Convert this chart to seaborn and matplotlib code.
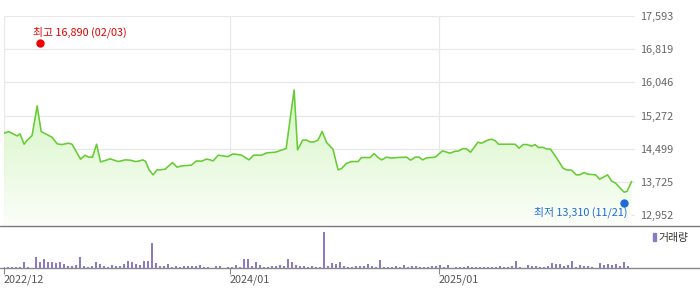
import numpy as np
import pandas as pd
import matplotlib
matplotlib.use("Agg")
import matplotlib.pyplot as plt
import matplotlib.dates as mdates
import matplotlib.transforms as mtransforms
from matplotlib.lines import Line2D
from matplotlib.patches import Rectangle
import seaborn as sns

# ---------------- data ----------------
price_dates = [
    "2022-12-02", "2022-12-10", "2022-12-19", "2022-12-25", "2022-12-30", "2023-01-06", "2023-01-12",
    "2023-01-20", "2023-01-29", "2023-02-05", "2023-02-16", "2023-02-24", "2023-03-05", "2023-03-13",
    "2023-03-25", "2023-03-31", "2023-04-15", "2023-04-23", "2023-04-29", "2023-05-06", "2023-05-13",
    "2023-05-20", "2023-05-28", "2023-06-06", "2023-06-11", "2023-06-20", "2023-07-02", "2023-07-11",
    "2023-07-20", "2023-07-25", "2023-08-02", "2023-08-07", "2023-08-13", "2023-08-20", "2023-08-27",
    "2023-09-01", "2023-09-10", "2023-09-23", "2023-10-01", "2023-10-09", "2023-10-26", "2023-11-04",
    "2023-11-13", "2023-11-21", "2023-11-26", "2023-12-03", "2023-12-12", "2023-12-29", "2024-01-07",
    "2024-01-22", "2024-02-04", "2024-02-12", "2024-02-26", "2024-03-06", "2024-03-21", "2024-04-02",
    "2024-04-09", "2024-04-23", "2024-04-29", "2024-05-08", "2024-05-14", "2024-05-21", "2024-05-28",
    "2024-06-04", "2024-06-11", "2024-06-19", "2024-06-30", "2024-07-09", "2024-07-15", "2024-07-24",
    "2024-08-02", "2024-08-13", "2024-08-19", "2024-09-03", "2024-09-10", "2024-09-17", "2024-09-23",
    "2024-10-02", "2024-10-11", "2024-10-20", "2024-11-06", "2024-11-13", "2024-11-21", "2024-11-28",
    "2024-12-04", "2024-12-11", "2024-12-26", "2025-01-08", "2025-01-21", "2025-01-30", "2025-02-04",
    "2025-02-13", "2025-02-19", "2025-02-26", "2025-03-11", "2025-03-17", "2025-03-23", "2025-03-29",
    "2025-04-04", "2025-04-10", "2025-04-16", "2025-04-30", "2025-05-15", "2025-05-22", "2025-05-29",
    "2025-06-05", "2025-06-13", "2025-06-19", "2025-06-25", "2025-07-02", "2025-07-09", "2025-07-16",
    "2025-07-27", "2025-08-07", "2025-08-13", "2025-08-22", "2025-08-30", "2025-09-05", "2025-09-13",
    "2025-09-19", "2025-10-03", "2025-10-10", "2025-10-17", "2025-10-24", "2025-10-31", "2025-11-07",
    "2025-11-15", "2025-11-22", "2025-11-27", "2025-12-05",
]
price_values = [
    14860, 14898, 14836, 14797, 14844, 14603, 14703,
    14804, 15496, 14898, 14820, 14766, 14611, 14595,
    14627, 14603, 14254, 14347, 14301, 14301, 14603,
    14191, 14222, 14262, 14238, 14199, 14238, 14231,
    14199, 14207, 14238, 14199, 14005, 13889, 14005,
    14005, 14021, 14175, 14068, 14098, 14114, 14214,
    14207, 14254, 14246, 14214, 14347, 14315, 14378,
    14347, 14238, 14347, 14347, 14401, 14417, 14471,
    14502, 15869, 14471, 14697, 14703, 14656, 14656,
    14703, 14898, 14641, 14487, 14005, 14036, 14160,
    14199, 14199, 14292, 14292, 14385, 14292, 14238,
    14301, 14277, 14292, 14301, 14231, 14301, 14301,
    14238, 14285, 14301, 14448, 14394, 14440, 14440,
    14502, 14494, 14417, 14649, 14626, 14665, 14703,
    14719, 14687, 14603, 14603, 14603, 14510, 14595,
    14595, 14557, 14595, 14525, 14533, 14494, 14487,
    14277, 14044, 14005, 13998, 13889, 13889, 13943,
    13905, 13889, 13788, 13835, 13889, 13742, 13695,
    13579, 13486, 13502, 13733,
]

# weekly volume (relative units), first week starting 2022-12-02
volume_start = "2022-12-02"
volume_values = [
    0.7, 0.7, 0.7, 0.7, 0.7, 5.7, 0.7, 0, 10.7, 5.7, 8.7, 5.7, 5.7, 4.7, 5.7, 3.7, 1.7, 1.7, 2.7, 10.7,
    1.7, 0.7, 1.7, 5.7, 3.7, 1.7, 0.7, 2.7, 1.7, 1.7, 3.7, 6.7, 5.7, 3.7, 2.7, 6.7, 6.7, 24.7, 4.7, 1.7,
    1.7, 3.7, 0.7, 1.7, 0.7, 1.7, 1.7, 1.7, 1.7, 2.7, 0.7, 0.7, 0, 1.7, 1.7, 0, 0.7, 0.7, 2.7, 0.7,
    8.7, 8.7, 1.7, 5.7, 2.7, 0.7, 0.7, 1.7, 1.7, 2.7, 1.7, 8.7, 5.7, 2.7, 1.7, 1.7, 0.7, 1.7, 0.7, 0.7,
    36.0, 1.7, 4.7, 3.7, 5.7, 1.7, 0.7, 0.7, 1.7, 1.7, 1.7, 3.7, 1.7, 0.7, 7.7, 0.7, 0.7, 0.7, 1.7, 0.7,
    2.7, 0.7, 1.7, 1.7, 0.7, 0.7, 0.7, 1.7, 1.7, 2.7, 0.7, 2.7, 0, 0.7, 0.7, 0.7, 1.7, 0.7, 0.7, 0.7,
    0.7, 0.7, 0.7, 0.7, 1.7, 0.7, 0.7, 1.7, 6.7, 0.7, 0, 2.7, 1.7, 1.7, 0.7, 0.7, 1.7, 4.7, 3.7, 3.7,
    1.7, 2.7, 6.7, 0.7, 2.7, 1.7, 1.7, 0.7, 0, 4.7, 2.7, 3.7, 2.7, 3.7, 1.7, 5.7, 1.7,
]

y_ticks = [12952, 13725, 14499, 15272, 16046, 16819, 17593]
x_tick_dates = ["2022-12-01", "2024-01-01", "2025-01-01"]
x_tick_labels = ["2022/12", "2024/01", "2025/01"]

high_date, high_value, high_label = "2023-02-03", 16890, "최고 16,890 (02/03)"
low_date, low_value, low_label = "2025-11-21", 13310, "최저 13,310 (11/21)"
legend_label = "거래량"

# ---------------- style ----------------
sns.set_theme(style="white")
plt.rcParams["font.family"] = ["Noto Sans CJK KR", "DejaVu Sans"]
FS = 7.8
LINE_C = "#66cc33"
VOL_C = "#8c7bc2"
GRID_C = "#e8e8e8"

W, H = 700, 289
fig = plt.figure(figsize=(7.0, 2.89), dpi=100)

def fx(px):
    return px / W

def fy(py):
    return 1 - py / H

# separator lines (drawn first, behind the transparent axes)
fig.add_artist(Line2D([0, 1], [fy(225.5)] * 2, color="#7a7a7a", lw=1.0, zorder=-1))
fig.add_artist(Line2D([0, 1], [fy(268)] * 2, color="#888888", lw=1.0, zorder=-1))

x_left, x_right = 3.5, 635
ax = fig.add_axes([fx(x_left), fy(225), fx(x_right - x_left), fy(16) - fy(225)])
axv = fig.add_axes([fx(x_left), fy(268), fx(x_right - x_left), fy(226) - fy(268)])
ax.patch.set_alpha(0)
axv.patch.set_alpha(0)

df = pd.DataFrame({"date": pd.to_datetime(price_dates), "price": price_values})
xmin = mdates.date2num(pd.Timestamp("2022-12-01"))
xmax = mdates.date2num(pd.Timestamp("2025-12-11"))
ymin, ymax = 12719, 17593

# gradient area under the line
xnum = mdates.date2num(df["date"])
poly = ax.fill_between(xnum, df["price"], ymin, color="none", lw=0)
grad_top = np.array([0.83, 0.96, 0.76])
grad_bot = np.array([0.985, 0.997, 0.975])
t = np.linspace(0, 1, 256)[:, None]
img_arr = (grad_bot[None, :] * (1 - t) + grad_top[None, :] * t)[:, None, :]
img = ax.imshow(img_arr, extent=[xmin, xmax, ymin, 15950], aspect="auto",
                origin="lower", zorder=1, interpolation="bilinear")
img.set_clip_path(poly.get_paths()[0], transform=ax.transData)

sns.lineplot(data=df, x="date", y="price", ax=ax, color=LINE_C, lw=1.15, zorder=3)

ax.set_xlim(xmin, xmax)
ax.set_ylim(ymin, ymax)
ax.set_xlabel("")
ax.set_ylabel("")
for s in ax.spines.values():
    s.set_visible(False)
ax.set_yticks(y_ticks)
ax.set_yticklabels([f"{v:,}" for v in y_ticks])
ax.yaxis.tick_right()
ax.tick_params(axis="y", length=0, pad=3.5, labelsize=FS, labelcolor="#666666")
ax.set_xticks([mdates.date2num(pd.Timestamp(d)) for d in x_tick_dates])
ax.set_xticklabels([])
ax.tick_params(axis="x", length=0)
ax.grid(True, color=GRID_C, lw=0.9, zorder=0)
ax.set_axisbelow(True)

# high / low markers
hx = mdates.date2num(pd.Timestamp(high_date))
lx = mdates.date2num(pd.Timestamp(low_date))
up = mtransforms.offset_copy(ax.transData, fig=fig, x=0, y=3, units="dots")
dn = mtransforms.offset_copy(ax.transData, fig=fig, x=0, y=-3, units="dots")
ax.plot([hx], [high_value], "o", color="#ee0000", ms=5, transform=up, zorder=5, clip_on=False)
ax.plot([lx], [low_value], "o", color="#1c6bd6", ms=5, transform=dn, zorder=5, clip_on=False)
ax.annotate(high_label, (hx, high_value), xytext=(-5, 10), textcoords="offset points",
            ha="left", va="center", color="#e60000", fontsize=FS, zorder=6)
ax.annotate(low_label, (lx, low_value), xytext=(3, -9), textcoords="offset points",
            ha="right", va="center", color="#1c6bd6", fontsize=FS, zorder=6)

# volume
vol_dates = pd.date_range(volume_start, periods=len(volume_values), freq="7D")
vol_num = mdates.date2num(vol_dates)
sns.barplot(x=vol_num, y=volume_values, native_scale=True, width=0.5, color=VOL_C,
            saturation=1, errorbar=None, ax=axv, linewidth=0)
axv.set_xlim(xmin, xmax)
axv.set_ylim(0, 42)
axv.set_xlabel("")
axv.set_ylabel("")
for s in axv.spines.values():
    s.set_visible(False)
axv.set_yticks([])
axv.set_xticks([mdates.date2num(pd.Timestamp(d)) for d in x_tick_dates])
axv.set_xticklabels(x_tick_labels, ha="left")
axv.tick_params(axis="x", length=4, width=0.8, color="#888888", pad=1,
                labelsize=FS, labelcolor="#555555", bottom=True, direction="out")
axv.grid(False)

# legend
fig.add_artist(Rectangle((fx(652.5), fy(241)), fx(3.5), fy(233) - fy(241),
                         color=VOL_C, transform=fig.transFigure))
fig.text(fx(658), fy(238), legend_label, fontsize=FS, color="#333333", va="center", ha="left")

fig.savefig("out.png", dpi=100)
